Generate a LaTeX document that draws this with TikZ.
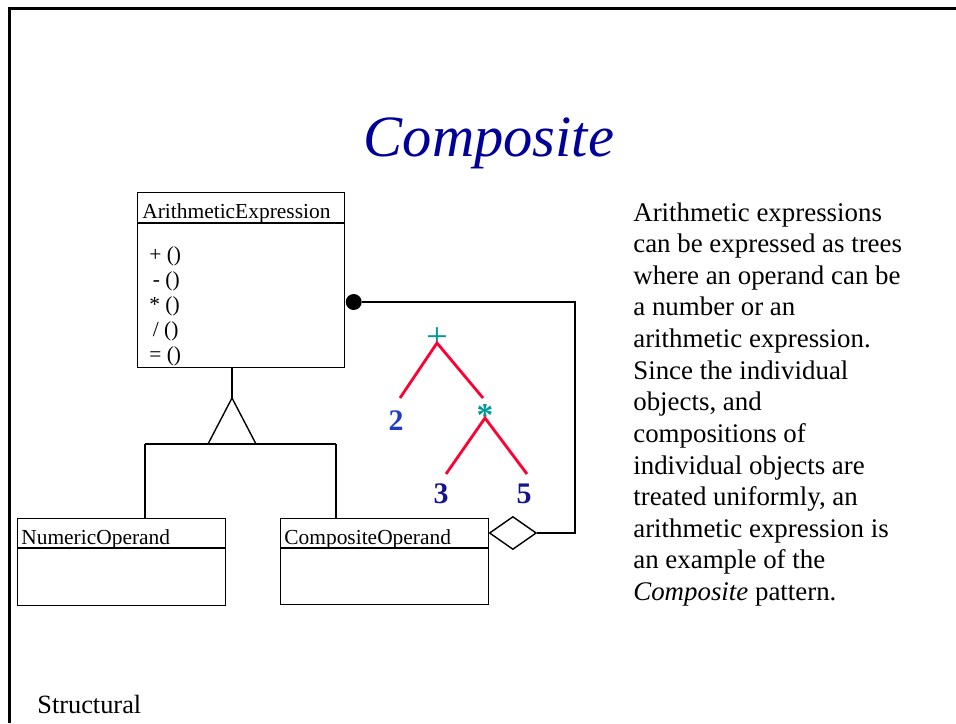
\documentclass[tikz,border=0pt]{standalone}
\usepackage{fontspec}
\setmainfont{Liberation Serif}
\usetikzlibrary{calc,positioning,shapes.geometric}

\definecolor{titleblue}{RGB}{0,0,153}
\definecolor{opteal}{RGB}{0,153,153}
\definecolor{edgered}{RGB}{255,0,51}
\definecolor{leafblue}{RGB}{30,60,200}
\definecolor{leafnavy}{RGB}{20,20,140}

\tikzset{
  umlbox/.style={draw, line width=0.8pt, anchor=north west, inner sep=0pt, minimum width=4.16cm},
  umlname/.style={font=\fontsize{12.2}{14}\selectfont, anchor=base west, inner sep=0pt},
  link/.style={line width=0.8pt},
  treeedge/.style={edgered, line width=1.6pt},
  opnode/.style={opteal, inner sep=0pt},
  leaf/.style={font=\fontsize{17}{17}\selectfont\bfseries, inner sep=0pt}
}

\begin{document}
\begin{tikzpicture}[x=0.02cm, y=-0.02cm]
        \useasboundingbox (0,0) rectangle (956,723);

        % Slide frame
        \draw[line width=1.7pt] (956,8.5) -- (9.5,8.5) -- (9.5,723);

        % Title
        \node[titleblue, font=\fontsize{33.3}{35}\selectfont\itshape, anchor=base] (title) at (489,156) {Composite};

        % Class boxes
        \node[umlbox, minimum width=4.14cm, minimum height=3.5cm] (ae) at (137,192) {};
        \node[umlname] (aename) at (142,218) {ArithmeticExpression};
        \draw[link] ($(ae.north west)+(0,31)$) -- ($(ae.north east)+(0,31)$);
        \node[font=\fontsize{12.2}{14.2}\selectfont, align=left, anchor=north west, inner sep=0pt] (ops) at (149,246)
            {+ ()\\ \,- ()\\ * ()\\ \,/ ()\\ = ()};

        \node[umlbox, minimum height=1.74cm] (num) at (17,518) {};
        \node[umlname] (numname) at (21,544) {NumericOperand};
        \draw[link] ($(num.north west)+(0,30)$) -- ($(num.north east)+(0,30)$);

        \node[umlbox, minimum height=1.72cm] (comp) at (280,518) {};
        \node[umlname] (compname) at (284,544) {CompositeOperand};
        \draw[link] ($(comp.north west)+(0,30)$) -- ($(comp.north east)+(0,30)$);

        % Generalization
        \coordinate (apex) at (232,398);
        \coordinate (genl) at (145,444);
        \coordinate (genr) at (336,444);
        \draw[link] (ae.south -| apex) -- (apex);
        \draw[link] (apex) -- (208,444) -- (256,444) -- cycle;
        \draw[link] (genl) -- (genr);
        \draw[link] (genl) -- (genl |- num.north);
        \draw[link] (genr) -- (genr |- comp.north);

        % Aggregation back to the expression
        \node[draw, link, diamond, inner sep=0pt, minimum width=0.94cm, minimum height=0.66cm, anchor=west] (agg) at ([xshift=-0.4pt]comp.east |- 0,533) {};
        \node[circle, fill, inner sep=0pt, minimum size=0.32cm, anchor=west] (dot) at (ae.east |- 0,302) {};
        \coordinate (cornerb) at (575,533);
        \coordinate (cornert) at (575,302);
        \draw[link] (agg.east) -- (cornerb) -- (cornert) -- (dot);

        % Example tree
        \node[opnode, font=\fontsize{22}{22}\selectfont] (plus) at (437,339) {+};
        \node[opnode, font=\fontsize{19}{19}\selectfont\bfseries] (times) at (485,415) {*};
        \node[leaf, leafblue] (two) at (396,421) {2};
        \node[leaf, leafnavy] (three) at (441,494) {3};
        \node[leaf, leafnavy] (five) at (524,494) {5};
        \coordinate (plusb) at (437,343);
        \coordinate (timesb) at (485,418);
        \draw[treeedge] (400,398) -- (plusb) -- (483,398);
        \draw[treeedge] (446,474) -- (timesb) -- (527,474);

        % Explanation
        \node[font=\fontsize{15.3}{18}\selectfont, align=left, anchor=north west, inner sep=0pt] (expl) at (633,202)
            {Arithmetic expressions\\ can be expressed as trees\\ where an operand can be\\ a number or an\\
             arithmetic expression.\\ Since the individual\\ objects, and\\ compositions of\\
             individual objects are\\ treated uniformly, an\\ arithmetic expression is\\ an example of the\\
             \textit{Composite} pattern.};

        \node[font=\fontsize{15}{18}\selectfont, anchor=base west, inner sep=0pt] (kind) at (37,713) {Structural};
\end{tikzpicture}
\end{document}
